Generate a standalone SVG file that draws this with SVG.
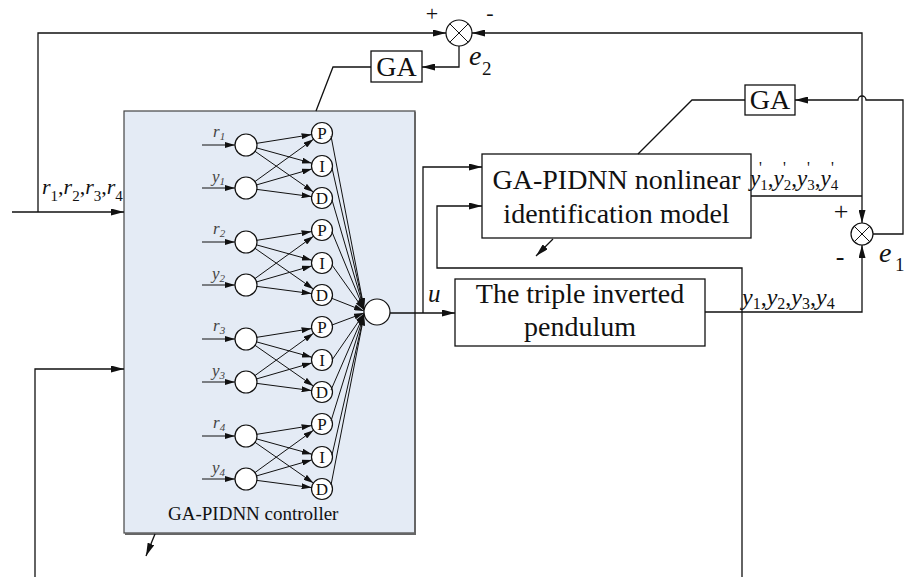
<svg xmlns="http://www.w3.org/2000/svg" width="906" height="577" viewBox="0 0 906 577">
<defs>
<style>
.ln{fill:none;stroke:#111;stroke-width:1.3}
.lt{fill:none;stroke:#111;stroke-width:1}
.box{fill:#fff;stroke:#111;stroke-width:1.3}
.nd{fill:#fff;stroke:#111;stroke-width:1.2}
.t{font-family:"Liberation Serif","Times New Roman",serif;fill:#111}
.it{font-style:italic}
.big{font-size:28px}
.pid{font-size:17px;text-anchor:middle}
.sm{font-family:"Liberation Serif","Times New Roman",serif;font-style:italic;font-size:17px;fill:#444}
</style>
<marker id="ah" viewBox="0 0 13 7" refX="13" refY="3.5" markerWidth="13" markerHeight="7" markerUnits="userSpaceOnUse" orient="auto"><path d="M0,0 L13,3.5 L0,7 z" fill="#111"/></marker>
<marker id="as" viewBox="0 0 10 6" refX="10" refY="3" markerWidth="10" markerHeight="6" markerUnits="userSpaceOnUse" orient="auto"><path d="M0,0 L10,3 L0,6 z" fill="#111"/></marker>
</defs>
<rect width="906" height="577" fill="#fff"/>

<g id="controller">
<rect x="124" y="111" width="291" height="422" fill="#e4ebf5" stroke="#444" stroke-width="1.2"/>
<path d="M415,112 V534 H125" fill="none" stroke="#666" stroke-width="2"/>
<text class="t" x="168" y="520" font-size="19">GA-PIDNN controller</text>
</g>

<g id="inputs">
<g id="in-r1"><circle class="nd" cx="246" cy="145" r="11"/><text class="sm" x="213" y="137">r<tspan font-size="11" dy="3">1</tspan></text></g>
<g id="in-y1"><circle class="nd" cx="246" cy="188" r="11"/><text class="sm" x="212" y="182">y<tspan font-size="11" dy="3">1</tspan></text></g>
<g id="in-r2"><circle class="nd" cx="246" cy="242" r="11"/><text class="sm" x="213" y="234">r<tspan font-size="11" dy="3">2</tspan></text></g>
<g id="in-y2"><circle class="nd" cx="246" cy="285" r="11"/><text class="sm" x="212" y="279">y<tspan font-size="11" dy="3">2</tspan></text></g>
<g id="in-r3"><circle class="nd" cx="246" cy="339" r="11"/><text class="sm" x="213" y="331">r<tspan font-size="11" dy="3">3</tspan></text></g>
<g id="in-y3"><circle class="nd" cx="246" cy="382" r="11"/><text class="sm" x="212" y="376">y<tspan font-size="11" dy="3">3</tspan></text></g>
<g id="in-r4"><circle class="nd" cx="246" cy="436" r="11"/><text class="sm" x="213" y="428">r<tspan font-size="11" dy="3">4</tspan></text></g>
<g id="in-y4"><circle class="nd" cx="246" cy="479" r="11"/><text class="sm" x="212" y="473">y<tspan font-size="11" dy="3">4</tspan></text></g>
</g>

<g id="pid-neurons">
<g id="P1"><circle class="nd" cx="322" cy="133" r="10.5"/><text class="t pid" x="322" y="139">P</text></g>
<g id="I1"><circle class="nd" cx="322" cy="166" r="10.5"/><text class="t pid" x="322" y="172">I</text></g>
<g id="D1"><circle class="nd" cx="322" cy="198" r="10.5"/><text class="t pid" x="322" y="204">D</text></g>
<g id="P2"><circle class="nd" cx="322" cy="230" r="10.5"/><text class="t pid" x="322" y="236">P</text></g>
<g id="I2"><circle class="nd" cx="322" cy="263" r="10.5"/><text class="t pid" x="322" y="269">I</text></g>
<g id="D2"><circle class="nd" cx="322" cy="295" r="10.5"/><text class="t pid" x="322" y="301">D</text></g>
<g id="P3"><circle class="nd" cx="322" cy="327" r="10.5"/><text class="t pid" x="322" y="333">P</text></g>
<g id="I3"><circle class="nd" cx="322" cy="360" r="10.5"/><text class="t pid" x="322" y="366">I</text></g>
<g id="D3"><circle class="nd" cx="322" cy="392" r="10.5"/><text class="t pid" x="322" y="398">D</text></g>
<g id="P4"><circle class="nd" cx="322" cy="424" r="10.5"/><text class="t pid" x="322" y="430">P</text></g>
<g id="I4"><circle class="nd" cx="322" cy="457" r="10.5"/><text class="t pid" x="322" y="463">I</text></g>
<g id="D4"><circle class="nd" cx="322" cy="489" r="10.5"/><text class="t pid" x="322" y="495">D</text></g>
</g>

<g id="output-neuron"><circle class="nd" cx="377" cy="312" r="13"/></g>

<g id="GA1"><rect class="box" x="371" y="51" width="51" height="31"/><text class="t big" x="396.5" y="76" text-anchor="middle">GA</text></g>
<g id="GA2"><rect class="box" x="745" y="85" width="50" height="30"/><text class="t big" x="770" y="109" text-anchor="middle">GA</text></g>

<g id="identifier"><rect class="box" x="482" y="154" width="269" height="84"/>
<text class="t big" x="616.5" y="189" text-anchor="middle">GA-PIDNN nonlinear</text>
<text class="t big" x="616.5" y="223" text-anchor="middle">identification model</text></g>

<g id="plant"><rect class="box" x="455" y="279" width="250" height="67"/>
<text class="t big" x="580" y="303" text-anchor="middle">The triple inverted</text>
<text class="t big" x="580" y="336" text-anchor="middle">pendulum</text></g>

<g id="sum-e2"><circle class="nd" cx="459" cy="33" r="13"/><path class="lt" d="M449.8,23.8 L468.2,42.2 M468.2,23.8 L449.8,42.2"/>
<text class="t" x="432" y="21" font-size="22" text-anchor="middle">+</text>
<text class="t" x="490" y="20" font-size="22" text-anchor="middle">-</text>
<text class="t it" x="469" y="65" font-size="28">e</text><text class="t" x="482" y="75" font-size="19">2</text></g>

<g id="sum-e1"><circle class="nd" cx="862" cy="234" r="11"/><path class="lt" d="M854.2,226.2 L869.8,241.8 M869.8,226.2 L854.2,241.8"/>
<text class="t" x="841" y="220" font-size="26" text-anchor="middle">+</text>
<text class="t" x="840" y="265" font-size="26" text-anchor="middle">-</text>
<text class="t it" x="879" y="262" font-size="28">e</text><text class="t" x="895" y="271" font-size="19">1</text></g>

<g id="connectors">
<g class="lt" marker-end="url(#as)">
<path d="M202,145 H235"/><path d="M202,188 H235"/><path d="M202,242 H235"/><path d="M202,285 H235"/>
<path d="M202,339 H235"/><path d="M202,382 H235"/><path d="M202,436 H235"/><path d="M202,479 H235"/>
<path d="M256.9,143.3 L311.6,134.6"/><path d="M256.6,147.9 L311.9,163.2"/><path d="M255,151.3 L313.4,192"/>
<path d="M254.9,181.6 L313.5,139.2"/><path d="M256.6,184.9 L311.9,168.9"/><path d="M256.9,189.4 L311.6,196.6"/>
<path d="M256.9,240.3 L311.6,231.6"/><path d="M256.6,244.9 L311.9,260.2"/><path d="M255,248.3 L313.4,289"/>
<path d="M254.9,278.6 L313.5,236.2"/><path d="M256.6,281.9 L311.9,265.9"/><path d="M256.9,286.4 L311.6,293.6"/>
<path d="M256.9,337.3 L311.6,328.6"/><path d="M256.6,341.9 L311.9,357.2"/><path d="M255,345.3 L313.4,386"/>
<path d="M254.9,375.6 L313.5,333.2"/><path d="M256.6,378.9 L311.9,362.9"/><path d="M256.9,383.4 L311.6,390.6"/>
<path d="M256.9,434.3 L311.6,425.6"/><path d="M256.6,438.9 L311.9,454.2"/><path d="M255,442.3 L313.4,483"/>
<path d="M254.9,472.6 L313.5,430.2"/><path d="M256.6,475.9 L311.9,459.9"/><path d="M256.9,480.4 L311.6,487.6"/>
<path d="M331,136 L364,308"/><path d="M332,168 L364,308.5"/><path d="M332,200 L364,309"/>
<path d="M332,232 L364,309.5"/><path d="M332,265 L364,310"/><path d="M331,298 L364,311"/>
<path d="M332,325 L364,313"/><path d="M332,360 L364,313.5"/><path d="M331,390 L364,314"/>
<path d="M331,421 L364,314.5"/><path d="M332,455 L364,315"/><path d="M331,485 L364,315.5"/>
</g>
<g class="ln" marker-end="url(#ah)">
<path d="M12,212 H124"/>
<path d="M38,212 V33 H446"/>
<path d="M35,577 V369 H124"/>
<path d="M862,196 V33 H472"/>
<path d="M862,196 V223"/>
<path d="M459,46 V67 H422"/>
<path d="M873,234 H903 V100 H866 A4,4 0 0 0 858,100 H795"/>
<path d="M390,313 H455"/>
<path d="M423,313 V167 H482"/>
<path d="M742,577 V268 H437 V206 H482"/>
<path d="M705,312 H862 V245"/>
<path d="M155,534 L146,556"/>
<path d="M553,239 L536,256"/>
</g>
<g class="ln">
<path d="M751,196 H862"/>
<path d="M371,67 H333 L316,111"/>
<path d="M745,100 H692 L638,154"/>
</g>
</g>

<g id="labels">
<text class="t it" x="42" y="194" font-size="22">r<tspan font-style="normal" font-size="15" dy="7">1</tspan><tspan font-style="normal" dy="-7">,</tspan>r<tspan font-style="normal" font-size="15" dy="7">2</tspan><tspan font-style="normal" dy="-7">,</tspan>r<tspan font-style="normal" font-size="15" dy="7">3</tspan><tspan font-style="normal" dy="-7">,</tspan>r<tspan font-style="normal" font-size="15" dy="7">4</tspan></text>
<text class="t it" x="428" y="302" font-size="25">u</text>
<text class="t it" x="750" y="186" font-size="23">y<tspan font-style="normal" font-size="15" dy="4">1</tspan><tspan font-style="normal" dy="-4">,</tspan>y<tspan font-style="normal" font-size="15" dy="4">2</tspan><tspan font-style="normal" dy="-4">,</tspan>y<tspan font-style="normal" font-size="15" dy="4">3</tspan><tspan font-style="normal" dy="-4">,</tspan>y<tspan font-style="normal" font-size="15" dy="4">4</tspan></text>
<text class="t" font-size="16" y="173"><tspan x="759">'</tspan><tspan x="783">'</tspan><tspan x="807">'</tspan><tspan x="831">'</tspan></text>
<text class="t it" x="742" y="305" font-size="24">y<tspan font-style="normal" font-size="16" dy="4">1</tspan><tspan font-style="normal" dy="-4">,</tspan>y<tspan font-style="normal" font-size="16" dy="4">2</tspan><tspan font-style="normal" dy="-4">,</tspan>y<tspan font-style="normal" font-size="16" dy="4">3</tspan><tspan font-style="normal" dy="-4">,</tspan>y<tspan font-style="normal" font-size="16" dy="4">4</tspan></text>
</g>
</svg>
